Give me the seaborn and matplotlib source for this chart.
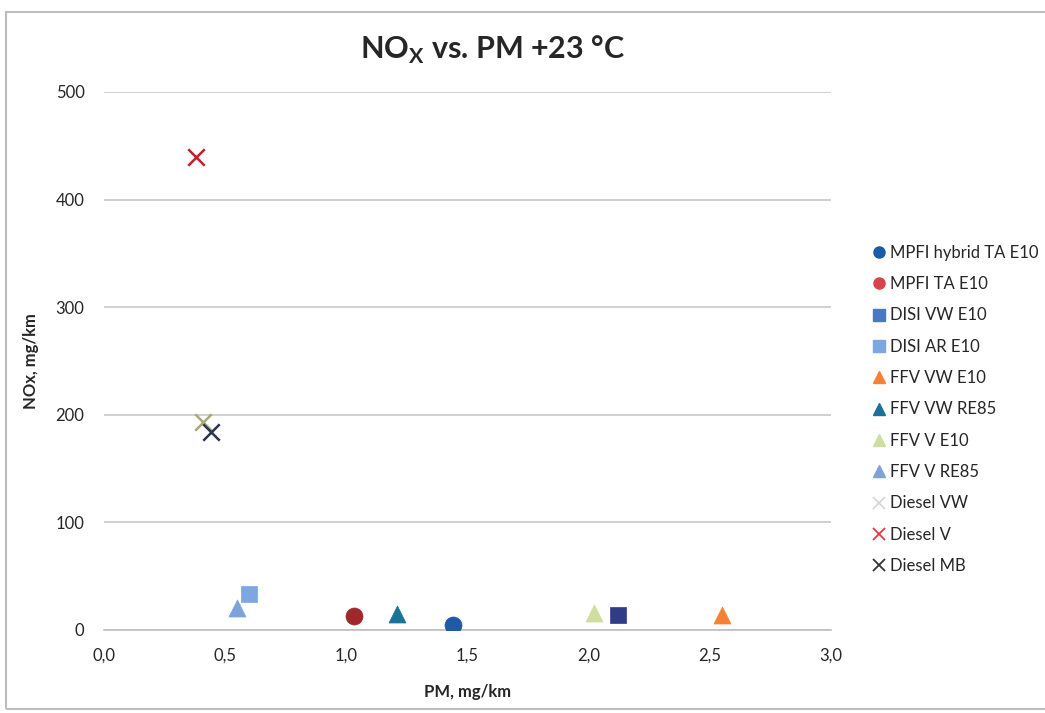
import matplotlib
matplotlib.use("Agg")
import matplotlib.pyplot as plt
import seaborn as sns
import pandas as pd
from matplotlib.patches import Rectangle

sns.set_theme(style="white")
plt.rcParams['font.family'] = ['Lato', 'DejaVu Sans']

series = ["MPFI hybrid TA E10", "MPFI TA E10", "DISI VW E10", "DISI AR E10",
          "FFV VW E10", "FFV VW RE85", "FFV V E10", "FFV V RE85",
          "Diesel VW", "Diesel V", "Diesel MB"]
pm = [1.44, 1.03, 2.12, 0.60, 2.55, 1.21, 2.02, 0.55, 0.41, 0.38, 0.44]
nox = [5, 13, 14, 33, 14, 15, 16, 20, 193, 440, 184]
markers = ["o", "o", "s", "s", "^", "^", "^", "^", "x", "x", "x"]
colors = ["#1f5aa6", "#a0282d", "#2f3c8a", "#7ea6e0", "#f58233", "#1a7299",
          "#cfdda0", "#7fa3d8", "#a9a878", "#c0202a", "#2b3550"]
legend_colors = ["#1f5aa6", "#d9434e", "#4a78c0", "#7ea6e0", "#f58233", "#1a7299",
                 "#cfdda0", "#7fa3d8", "#d8d8d8", "#e03a45", "#333333"]
xticks = [0.0, 0.5, 1.0, 1.5, 2.0, 2.5, 3.0]
yticks = [0, 100, 200, 300, 400, 500]

df = pd.DataFrame({"series": series, "pm": pm, "nox": nox})

fig = plt.figure(figsize=(10.45, 7.13), dpi=100)
ax = fig.add_axes([104/1045, 1-630/713, (831-104)/1045, (630-92)/713])

for i, s in enumerate(series):
    sub = df[df["series"] == s]
    m = markers[i]
    if m == "x":
        sns.scatterplot(data=sub, x="pm", y="nox", ax=ax, marker="x", s=140,
                        color=colors[i], linewidth=1.8, legend=False, zorder=3)
    else:
        size = 120 if m == "s" else 150
        sns.scatterplot(data=sub, x="pm", y="nox", ax=ax, marker=m, s=size,
                        color=colors[i], edgecolor=colors[i], linewidth=0.5,
                        legend=False, zorder=3)

ax.set_xlim(0, 3.0)
ax.set_ylim(0, 500)
ax.set_xticks(xticks)
ax.set_xticklabels([f"{v:.1f}".replace(".", ",") for v in xticks], fontsize=12)
ax.set_yticks(yticks)
ax.set_yticklabels([str(v) for v in yticks], fontsize=12)
ax.yaxis.grid(True, color="#c8c8c8", linewidth=1.2)
ax.xaxis.grid(False)
for sp in ["top", "right", "left"]:
    ax.spines[sp].set_visible(False)
ax.spines["bottom"].set_color("#bfbfbf")
ax.spines["bottom"].set_linewidth(1.2)
ax.tick_params(axis="x", direction="out", length=5, color="#bfbfbf", pad=8)
ax.tick_params(axis="y", left=False, pad=8)
ax.set_xlabel("PM, mg/km", fontsize=12, fontweight="bold", labelpad=14)
ax.set_ylabel("NOx, mg/km", fontsize=12, fontweight="bold", labelpad=12)

fig.text(493/1045, 1-50/713, r"NO$_\mathregular{X}$ vs. PM +23 °C", ha="center", va="center",
         fontsize=22, fontweight="bold")

handles = []
for i, s in enumerate(series):
    if markers[i] == "x":
        h = plt.Line2D([], [], linestyle="", marker="x", markersize=9,
                       markeredgewidth=1.3, color=legend_colors[i])
    else:
        h = plt.Line2D([], [], linestyle="", marker=markers[i], markersize=8,
                       color=legend_colors[i], markeredgecolor=legend_colors[i])
    handles.append(h)
fig.legend(handles, series, loc="upper left", bbox_to_anchor=(862/1045, 1-238/713),
           frameon=False, fontsize=12, handletextpad=0.05, labelspacing=0.92,
           handlelength=1.2, borderaxespad=0)

fig.patches.append(Rectangle((6/1045, 0.005), 1.2, 1-12/713-0.005, transform=fig.transFigure,
                             fill=False, edgecolor="#bdbdbd", linewidth=1.5))

fig.savefig("out.png", dpi=100)
